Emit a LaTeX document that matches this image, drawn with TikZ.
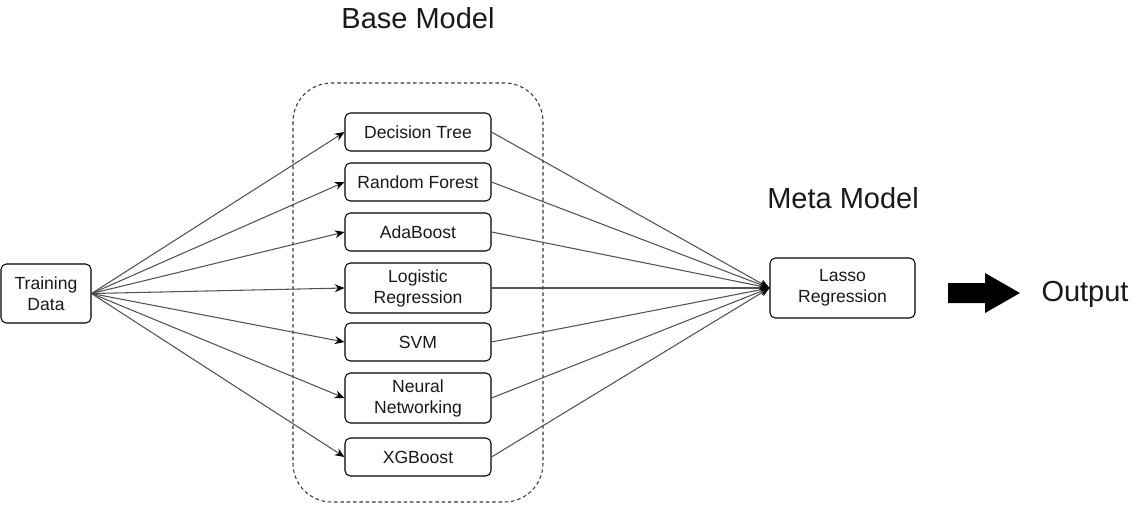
\documentclass[tikz,border=0pt]{standalone}
\usepackage{fontspec}
\setmainfont{Liberation Sans}
\usetikzlibrary{arrows.meta,backgrounds}

\tikzset{
	model/.style={draw, rounded corners=3pt, line width=0.6pt, minimum width=2.92cm, minimum height=0.76cm, align=center, inner sep=0pt, text=black!90, font=\fontsize{10}{12}\selectfont},
	link/.style={draw=black!68, line width=0.6pt, -{Stealth[length=5.5pt,width=4.5pt,color=black]}},
	heading/.style={text=black!90, font=\fontsize{16.5}{20}\selectfont}
}

\begin{document}
\begin{tikzpicture}[x=0.02cm, y=-0.02cm]
	% canvas, in pixels of the original
	\useasboundingbox (0,0) rectangle (1142,512);

	% The dashed box round the base models
	\draw[dash pattern=on 2pt off 1.6pt, line width=0.6pt, black!78, rounded corners=22pt] (293,83) rectangle (543,502);
	\node[heading] (basetitle) at (418,18) {Base Model};

	% Input
	\node[model, minimum width=1.8cm, minimum height=1.18cm] (train) at (46,293.5) {Training\\Data};

	% Base models
	\node[model] (dtree) at (418,132) {Decision Tree};
	\node[model] (rforest) at (418,182) {Random Forest};
	\node[model] (ada) at (418,232) {AdaBoost};
	\node[model, minimum height=1cm] (logreg) at (418,288) {Logistic\\Regression};
	\node[model] (svm) at (418,342) {SVM};
	\node[model, minimum height=1cm] (neural) at (418,398) {Neural\\Networking};
	\node[model] (xgb) at (418,457) {XGBoost};

	% Meta model
	\node[heading] (metatitle) at (843,198) {Meta Model};
	\node[model, minimum width=2.9cm, minimum height=1.2cm] (lasso) at (842.5,288) {Lasso\\Regression};

	% Connections
	\coordinate (inpt) at (train.east);
	\coordinate (meet) at (lasso.west);
	\foreach \m in {dtree,rforest,ada,logreg,svm,neural,xgb} {
		\draw[link] (inpt) -- (\m.west);
		\draw[link] (\m.east) -- (meet);
	}

	% Output
	\fill (948,283) -- (985,283) -- (985,273) -- (1020,293) -- (985,313) -- (985,303) -- (948,303) -- cycle;
	\node[heading] (outtext) at (1085,294) {Output};
\end{tikzpicture}
\end{document}
